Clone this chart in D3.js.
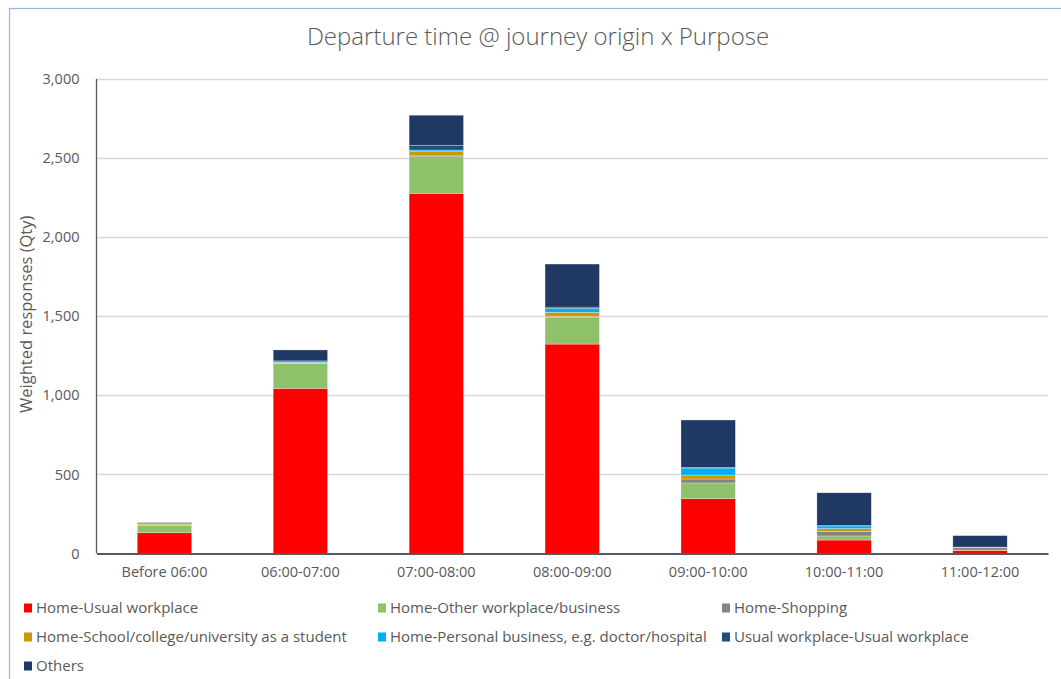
<!DOCTYPE html>
<html>
<head>
<meta charset="utf-8">
<script src="https://cdn.jsdelivr.net/npm/d3@7"></script>
<style>
  html, body { margin: 0; padding: 0; background: #fff; }
  svg { display: block; font-family: "Open Sans", "Liberation Sans", Arial, sans-serif; }
</style>
</head>
<body>
<svg id="chart" width="1061" height="679"></svg>
<script>
// Departure time bands
const categories = ["Before 06:00", "06:00-07:00", "07:00-08:00", "08:00-09:00", "09:00-10:00", "10:00-11:00", "11:00-12:00"];

// Journey purposes (stack order, bottom to top)
const purposes = [
  "Home-Usual workplace",
  "Home-Other workplace/business",
  "Home-Shopping",
  "Home-School/college/university as a student",
  "Home-Personal business, e.g. doctor/hospital",
  "Usual workplace-Usual workplace",
  "Others"
];

// Weighted responses per purpose, one value per time band
const homeUsualWorkplace   = [131, 1044, 2277, 1324, 347, 85, 20];
const homeOtherWorkplace   = [47, 156, 232, 171, 99, 26, 2];
const homeShopping         = [2, 2, 5, 4, 25, 29, 14];
const homeSchool           = [6, 5, 30, 26, 25, 17, 2];
const homePersonalBusiness = [1, 5, 7, 25, 44, 17, 2];
const usualToUsual         = [3, 6, 30, 8, 5, 3, 1];
const others               = [5, 69, 190, 272, 299, 207, 72];

const yTicks = [0, 500, 1000, 1500, 2000, 2500, 3000];

const colors = ["#ff0000", "#8fc06a", "#848484", "#c99a06", "#00b0f0", "#1f4e79", "#203864"];

const series = [homeUsualWorkplace, homeOtherWorkplace, homeShopping, homeSchool,
                homePersonalBusiness, usualToUsual, others];

const rows = categories.map((c, i) => {
  const r = { category: c };
  purposes.forEach((p, k) => { r[p] = series[k][i]; });
  return r;
});

const svg = d3.select("#chart");

// outer chart frame
svg.append("rect")
  .attr("x", 9.5).attr("y", 8.5)
  .attr("width", 1200).attr("height", 1000)
  .attr("fill", "none").attr("stroke", "#8dbbe6").attr("stroke-width", 1.2);

const plot = { left: 96.5, right: 1048, top: 79, bottom: 553.5 };

const x = d3.scaleBand().domain(categories).range([plot.left, plot.right]).paddingInner(0.6).paddingOuter(0.3);
const y = d3.scaleLinear().domain([0, 3000]).range([plot.bottom, plot.top]);

// gridlines
svg.append("g")
  .selectAll("line")
  .data(yTicks.filter(d => d > 0))
  .join("line")
  .attr("x1", plot.left).attr("x2", plot.right)
  .attr("y1", d => Math.round(y(d)) + 0.5).attr("y2", d => Math.round(y(d)) + 0.5)
  .attr("stroke", "#d9d9d9").attr("stroke-width", 1.3);

// y tick labels
const yAxis = d3.axisLeft(y).tickValues(yTicks).tickFormat(d3.format(",")).tickSize(0).tickPadding(17);
const yG = svg.append("g").attr("transform", `translate(${plot.left},0)`).call(yAxis);
yG.select(".domain").remove();
yG.selectAll("text").attr("fill", "#595959").attr("font-size", 14.5).attr("font-family", "'Open Sans', sans-serif");

// stacked bars
const stack = d3.stack().keys(purposes);
const layers = stack(rows);

svg.append("g")
  .selectAll("g")
  .data(layers)
  .join("g")
  .attr("fill", (d, i) => colors[i])
  .selectAll("rect")
  .data(d => d)
  .join("rect")
  .attr("x", d => x(d.data.category))
  .attr("width", x.bandwidth())
  .attr("y", d => y(d[1]))
  .attr("height", d => Math.max(0, y(d[0]) - y(d[1])))
  .attr("stroke", "#ffffff").attr("stroke-opacity", 0.45).attr("stroke-width", 0.6);

// axis lines
svg.append("line")
  .attr("x1", plot.left).attr("x2", plot.left)
  .attr("y1", plot.top).attr("y2", plot.bottom)
  .attr("stroke", "#595959").attr("stroke-width", 1.3);

const xAxis = d3.axisBottom(x).tickSize(0).tickPadding(13);
const xG = svg.append("g").attr("transform", `translate(0,${plot.bottom})`).call(xAxis);
xG.select(".domain").attr("stroke", "#595959").attr("stroke-width", 1.8);
xG.selectAll("text").attr("fill", "#595959").attr("font-size", 14.5).attr("font-family", "'Open Sans', sans-serif");

// y axis title
svg.append("text")
  .attr("transform", `translate(32,${(plot.top + plot.bottom) / 2 - 2}) rotate(-90)`)
  .attr("text-anchor", "middle")
  .attr("fill", "#595959").attr("font-size", 16.5)
  .text("Weighted responses (Qty)");

// chart title
svg.append("text")
  .attr("x", 538).attr("y", 45)
  .attr("text-anchor", "middle")
  .attr("fill", "#595959").attr("font-size", 24)
  .attr("font-weight", 300)
  .text("Departure time @ journey origin x Purpose");

// legend
const legendX = [24, 378, 722];
const legendY = [608, 637, 666];
const lg = svg.append("g")
  .selectAll("g")
  .data(purposes)
  .join("g")
  .attr("transform", (d, i) => `translate(${legendX[i % 3]},${legendY[Math.floor(i / 3)]})`);
lg.append("rect")
  .attr("x", 0).attr("y", -4.5).attr("width", 8).attr("height", 9)
  .attr("fill", (d, i) => colors[i]);
lg.append("text")
  .attr("x", 12).attr("y", 5)
  .attr("fill", "#595959").attr("font-size", 15)
  .text(d => d);
</script>
</body>
</html>
